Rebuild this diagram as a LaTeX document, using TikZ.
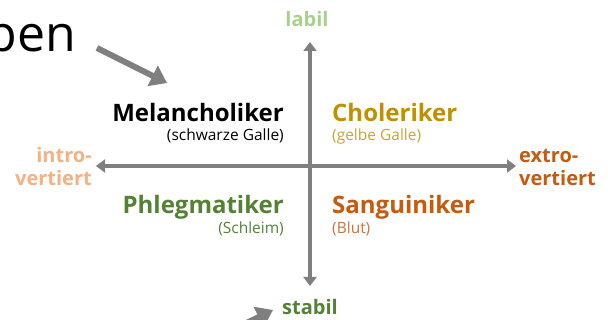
\documentclass[tikz,border=0pt]{standalone}
\usepackage{fontspec}
\setmainfont{Open Sans}
\usetikzlibrary{arrows.meta}
\definecolor{axisgray}{HTML}{7F7F7F}
\definecolor{labilgreen}{HTML}{A9D18E}
\definecolor{darkgreen}{HTML}{548235}
\definecolor{lightorange}{HTML}{F4B183}
\definecolor{darkorange}{HTML}{C55A11}
\definecolor{gold}{HTML}{BF9000}
\definecolor{lightgold}{HTML}{C9A33A}
\definecolor{blutorange}{HTML}{C8753F}
\tikzset{
  axis/.style={draw=axisgray, line width=4pt, {Triangle[length=9pt,width=13pt]}-{Triangle[length=9pt,width=13pt]}},
  pointer/.style={draw=axisgray, line width=6pt, -{Triangle[length=16pt,width=22pt]}},
  typename/.style={inner sep=0pt, font=\fontsize{24}{28}\selectfont\bfseries},
  typesub/.style={inner sep=0pt, font=\fontsize{15.5}{18}\selectfont},
  axislabel/.style={inner sep=0pt, font=\fontsize{20}{23.5}\selectfont\bfseries},
}
\begin{document}
\begin{tikzpicture}[x=1pt,y=-1pt]
\useasboundingbox (0,0) rectangle (608,320);
\clip (0,0) rectangle (608,320);
% title fragment
\node[inner sep=0pt, anchor=base east, font=\fontsize{50}{56}\selectfont] (title) at (76,52) {pen};
% pointers
\coordinate (p1s) at (97,48);
\coordinate (p1e) at (167,83);
\draw[pointer] (p1s) -- (p1e);
\coordinate (p2s) at (200,346);
\coordinate (p2e) at (273,310);
\draw[pointer] (p2s) -- (p2e);
% axes
\coordinate (top) at (310,42);
\coordinate (bot) at (310,286);
\coordinate (left) at (96,166);
\coordinate (right) at (516,166);
\draw[axis] (top) -- (bot);
\draw[axis] (left) -- (right);
% axis labels
\node[axislabel, text=labilgreen, anchor=base] (labil) at (307,27) {labil};
\node[axislabel, text=darkgreen, anchor=base] (stabil) at (310,315) {stabil};
\node[axislabel, text=lightorange, anchor=base east, align=right] (intro) at (92,186) {intro-\\vertiert};
\node[axislabel, text=darkorange, anchor=base west, align=left] (extro) at (519,186) {extro-\\vertiert};
% quadrants
\node[typename, anchor=base east] (mel) at (284,122) {Melancholiker};
\node[typesub, anchor=base east] (melsub) at (284,141) {(schwarze Galle)};
\node[typename, text=gold, anchor=base west] (chol) at (332,122) {Choleriker};
\node[typesub, text=lightgold, anchor=base west] (cholsub) at (332,141) {(gelbe Galle)};
\node[typename, text=darkgreen, anchor=base east] (phl) at (284,214) {Phlegmatiker};
\node[typesub, text=darkgreen, anchor=base east] (phlsub) at (284,234) {(Schleim)};
\node[typename, text=darkorange, anchor=base west] (san) at (332,214) {Sanguiniker};
\node[typesub, text=blutorange, anchor=base west] (sansub) at (332,234) {(Blut)};
\end{tikzpicture}
\end{document}
